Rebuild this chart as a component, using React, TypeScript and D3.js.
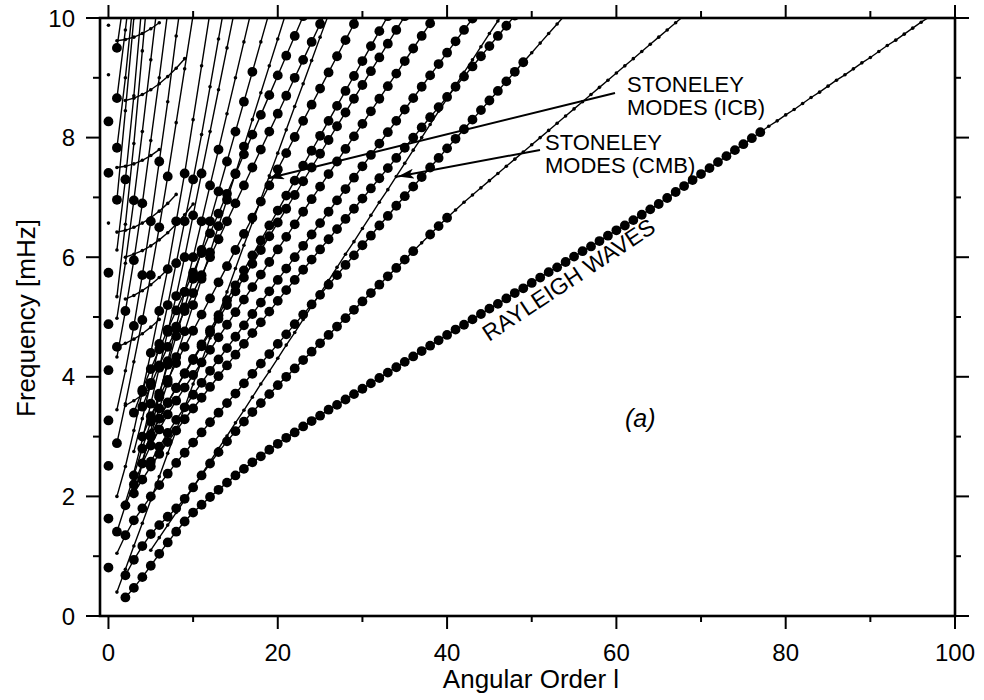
import React from "react";
import * as d3 from "d3";

// radial modes at l = 0 (isolated dots), 1 = observed
const RADIAL_F = [0.81, 1.63, 2.51, 3.27, 4.11, 4.88, 5.74, 6.57, 7.41, 8.27, 9.05, 9.88];
const RADIAL_OBS = [1, 1, 1, 1, 1, 1, 1, 0, 1, 1, 0, 0];

// fundamental branch (Rayleigh waves), l = 2..97
const FUND = [
  0.31, 0.47, 0.65, 0.84, 1.04, 1.23, 1.41, 1.58, 1.73, 1.86, 1.99, 2.11, 2.23, 2.35, 2.46, 2.57, 2.67, 2.78, 2.88,
  2.98, 3.07, 3.17, 3.26, 3.35, 3.45, 3.53, 3.62, 3.71, 3.8,
  3.89, 3.98, 4.07, 4.16, 4.25, 4.34, 4.43, 4.52, 4.61, 4.7,
  4.79, 4.87, 4.96, 5.05, 5.14, 5.22, 5.31, 5.4, 5.48, 5.57,
  5.66, 5.75, 5.83, 5.92, 6.01, 6.1, 6.18, 6.27, 6.36, 6.45,
  6.53, 6.62, 6.71, 6.8, 6.89, 6.99, 7.09, 7.19, 7.29, 7.39,
  7.49, 7.59, 7.69, 7.79, 7.89, 7.99, 8.09,
  8.19, 8.28, 8.38, 8.47, 8.57, 8.67, 8.76, 8.86, 8.96, 9.05, 9.15, 9.25, 9.34, 9.44, 9.54, 9.63, 9.73, 9.83, 9.93, 10.02,
];
const FUND_OBS = [[2, 77]];

// first overtone, l = 2..68
const OV1 = [
  0.68, 0.94, 1.17, 1.37, 1.52, 1.66, 1.8, 1.96, 2.15, 2.35, 2.55, 2.74, 2.92, 3.09, 3.25, 3.41, 3.56, 3.71, 3.86,
  4.0, 4.14, 4.28, 4.42, 4.56, 4.7, 4.84, 4.98, 5.12, 5.26,
  5.4, 5.54, 5.68, 5.82, 5.96, 6.1, 6.24, 6.38, 6.52, 6.66,
  6.79, 6.92, 7.04, 7.16, 7.28, 7.4, 7.52, 7.64, 7.76, 7.88,
  8.0, 8.12, 8.24, 8.36, 8.48, 8.6, 8.72, 8.84, 8.96, 9.08,
  9.2, 9.32, 9.44, 9.56, 9.68, 9.8, 9.92, 10.04,
];
const OV1_OBS = [[2, 36], [38, 40]];

// higher overtones in the middle of the fan
const MA = [1.05, 1.35, 1.6, 1.8, 2.0, 2.19, 2.38, 2.56, 2.73, 2.9, 3.07, 3.24, 3.4, 3.56, 3.72, 3.89, 4.05, 4.22, 4.38, 4.55, 4.71, 4.88, 5.04, 5.21, 5.37, 5.54, 5.7, 5.87, 6.03, 6.2, 6.36, 6.53, 6.69, 6.86, 7.02, 7.18, 7.34, 7.5, 7.66, 7.82, 7.98, 8.14, 8.3, 8.46, 8.62, 8.78, 8.94, 9.1, 9.26, 9.42, 9.58, 9.74, 9.9, 10.06];
const MB = [2.05, 2.28, 2.5, 2.71, 2.91, 3.1, 3.29, 3.47, 3.65, 3.83, 4.01, 4.19, 4.37, 4.55, 4.73, 4.91, 5.09, 5.27, 5.45, 5.62, 5.79, 5.96, 6.13, 6.3, 6.47, 6.64, 6.81, 6.98, 7.15, 7.32, 7.49, 7.66, 7.83, 8.0, 8.17, 8.34, 8.51, 8.68, 8.85, 9.02, 9.19, 9.36, 9.53, 9.7, 9.87, 10.04];
const MC = [2.58, 2.83, 3.06, 3.28, 3.49, 3.7, 3.9, 4.1, 4.29, 4.48, 4.67, 4.86, 5.05, 5.24, 5.43, 5.62, 5.81, 6.0, 6.19, 6.38, 6.57, 6.76, 6.95, 7.14, 7.33, 7.52, 7.71, 7.9, 8.09, 8.28, 8.47, 8.66, 8.85, 9.04, 9.23, 9.42, 9.61, 9.8, 9.99, 10.18];
const MD = [1.41, 1.85, 2.2, 2.55, 2.85, 3.12, 3.37, 3.6, 3.82, 4.03, 4.24, 4.45, 4.66, 4.87, 5.08, 5.29, 5.5, 5.71, 5.92, 6.13, 6.34, 6.55, 6.76, 6.97, 7.18, 7.39, 7.6, 7.81, 8.02, 8.23, 8.44, 8.65, 8.86, 9.07, 9.28, 9.49, 9.7, 9.91, 10.12];
const ME = [3.02, 3.3, 3.56, 3.81, 4.05, 4.28, 4.51, 4.74, 4.97, 5.2, 5.43, 5.66, 5.89, 6.12, 6.35, 6.58, 6.81, 7.04, 7.27, 7.5, 7.73, 7.96, 8.19, 8.42, 8.65, 8.88, 9.11, 9.34, 9.57, 9.8, 10.03];
const MF = [3.0, 3.3, 3.57, 3.82, 4.06, 4.3, 4.54, 4.78, 5.03, 5.28, 5.53, 5.78, 6.03, 6.28, 6.53, 6.78, 7.03, 7.28, 7.53, 7.78, 8.03, 8.28, 8.53, 8.78, 9.03, 9.28, 9.53, 9.78, 10.03];
const MG = [3.0, 3.34, 3.66, 3.95, 4.23, 4.5, 4.77, 5.04, 5.31, 5.58, 5.85, 6.12, 6.39, 6.66, 6.93, 7.2, 7.47, 7.74, 8.01, 8.28, 8.55, 8.82, 9.09, 9.36, 9.63, 9.9, 10.17];
const MH = [3.5, 3.86, 4.19, 4.5, 4.8, 5.1, 5.4, 5.7, 6.0, 6.3, 6.6, 6.9, 7.2, 7.5, 7.8, 8.1, 8.4, 8.7, 9.0, 9.3, 9.6, 9.9, 10.2];
const MI = [3.4, 3.78, 4.13, 4.46, 4.79, 5.11, 5.42, 5.74, 6.07, 6.4, 6.73, 7.06, 7.39, 7.72, 8.05, 8.38, 8.71, 9.04, 9.37, 9.7, 10.03];

// Stoneley branches (predicted only)
const CMB = [1.1, 1.31, 1.52, 1.73, 1.94, 2.15, 2.37, 2.58, 2.8, 3.01, 3.23, 3.44, 3.66, 3.88, 4.09, 4.31, 4.53, 4.74, 4.96, 5.18, 5.39, 5.61, 5.83, 6.05, 6.26, 6.48, 6.7, 6.92, 7.13, 7.35, 7.57, 7.79, 8.0, 8.22, 8.44, 8.65, 8.87, 9.09, 9.3, 9.52, 9.74, 9.95, 10.17];
const ICB = [0.4, 0.78, 1.17, 1.55, 1.94, 2.33, 2.72, 3.1, 3.49, 3.88, 4.26, 4.65, 5.04, 5.42, 5.81, 6.2, 6.58, 6.97, 7.36, 7.74, 8.13, 8.52, 8.9, 9.29, 9.68, 10.06];

// steep branches at low angular order
const L1 = [2.6, 3.03, 3.47, 3.9, 4.33, 4.76, 5.2, 5.64, 6.08, 6.52, 6.96, 7.4, 7.85, 8.3, 8.75, 9.2, 9.65, 10.1];
const L2 = [1.9, 2.35, 2.8, 3.25, 3.72, 4.2, 4.68, 5.16, 5.64, 6.12, 6.6, 7.1, 7.6, 8.1, 8.6, 9.1, 9.6, 10.1];
const L3 = [2.0, 2.55, 3.1, 3.68, 4.26, 4.84, 5.42, 6.0, 6.6, 7.2, 7.8, 8.4, 9.0, 9.6, 10.2];
const L4 = [2.4, 2.95, 3.55, 4.15, 4.75, 5.35, 6.0, 6.7, 7.4, 8.1, 8.8, 9.5, 10.2];
const L5 = [2.75, 3.3, 3.9, 4.55, 5.2, 5.9, 6.6, 7.3, 8.05, 8.85, 9.65, 10.45];
const L6 = [2.0, 2.5, 3.1, 3.75, 4.4, 5.1, 5.8, 6.6, 7.4, 8.3, 9.2, 10.1];
const L7 = [2.89, 3.55, 4.25, 4.95, 5.7, 6.5, 7.35, 8.25, 9.15, 10.05];
const L8 = [3.45, 4.1, 4.85, 5.7, 6.6, 7.6, 8.6, 9.7, 10.7];
const L9 = [4.33, 5.1, 5.95, 6.9, 7.95, 9.0, 10.1];
const L10 = [4.98, 5.9, 6.95, 8.1, 9.3, 10.5];
const L11 = [5.34, 6.55, 7.9, 9.45, 11.0];
const L12 = [6.12, 7.3, 8.7, 10.3];
const L13 = [6.96, 8.45, 10.0];
const L14 = [7.83, 9.0, 10.4];
const L15 = [8.66, 9.8, 11.0];
const L16 = [9.5, 10.5];

// flat core-sensitive branches
const FA = [4.5, 4.56, 4.63, 4.72, 4.83, 4.96];
const FB = [5.3, 5.36, 5.44, 5.54, 5.66, 5.8];
const FC = [6.42, 6.45, 6.5, 6.57, 6.66, 6.77, 6.9, 7.05];
const FD = [7.5, 7.52, 7.56, 7.62, 7.7, 7.8];
const FE = [8.62, 8.66, 8.72, 8.8, 8.9, 9.02, 9.16, 9.32];
const FF = [9.62, 9.64, 9.68, 9.74, 9.82, 9.92];
const FG = [6.0, 6.05, 6.11, 6.19, 6.29, 6.41, 6.55, 6.71, 6.89];
const FH = [3.52, 3.6, 3.7, 3.82];

// first angular order of each branch and the observed (big dot) ranges
const BRANCHES = [
  { l0: 2, f: FUND, obs: FUND_OBS },
  { l0: 2, f: OV1, obs: OV1_OBS },
  { l0: 1, f: MA, obs: [[2, 49]] },
  { l0: 3, f: MB, obs: [[3, 48]] },
  { l0: 5, f: MC, obs: [[5, 44]] },
  { l0: 1, f: MD, obs: [[1, 39]] },
  { l0: 5, f: ME, obs: [[5, 35]] },
  { l0: 5, f: MF, obs: [[5, 33]] },
  { l0: 4, f: MG, obs: [[4, 30]] },
  { l0: 4, f: MH, obs: [[4, 26]] },
  { l0: 3, f: MI, obs: [[3, 23]] },
  { l0: 5, f: CMB, obs: [] },
  { l0: 1, f: ICB, obs: [] },
  { l0: 4, f: L1, obs: [[5, 16]] },
  { l0: 2, f: L2, obs: [[3, 17]] },
  { l0: 3, f: L3, obs: [[6, 13]] },
  { l0: 3, f: L4, obs: [[5, 11]] },
  { l0: 3, f: L5, obs: [[5, 10]] },
  { l0: 1, f: L6, obs: [[4, 9]] },
  { l0: 1, f: L7, obs: [[1, 1], [4, 7]] },
  { l0: 1, f: L8, obs: [[3, 6]] },
  { l0: 1, f: L9, obs: [[2, 4]] },
  { l0: 1, f: L10, obs: [[3, 3]] },
  { l0: 1, f: L11, obs: [] },
  { l0: 1, f: L12, obs: [[2, 2]] },
  { l0: 1, f: L13, obs: [[1, 1]] },
  { l0: 1, f: L14, obs: [[1, 1]] },
  { l0: 1, f: L15, obs: [[1, 1]] },
  { l0: 1, f: L16, obs: [[1, 1]] },
  { l0: 1, f: FA, obs: [[1, 1]] },
  { l0: 2, f: FB, obs: [] },
  { l0: 1, f: FC, obs: [] },
  { l0: 1, f: FD, obs: [] },
  { l0: 2, f: FE, obs: [] },
  { l0: 1, f: FF, obs: [] },
  { l0: 2, f: FG, obs: [] },
  { l0: 2, f: FH, obs: [] },
];

const X_TICKS = [0, 10, 20, 30, 40, 50, 60, 70, 80, 90, 100];
const Y_TICKS = [0, 1, 2, 3, 4, 5, 6, 7, 8, 9, 10];

const FONT = "'Liberation Sans', Arial, Helvetica, sans-serif";

export default function App() {
  const x = d3.scaleLinear().domain([-1, 100]).range([100, 955]);
  const y = d3.scaleLinear().domain([0, 10]).range([616, 18]);
  const line = d3.line<[number, number]>().x((d) => x(d[0])).y((d) => y(d[1]));

  const inObs = (ranges: number[][], l: number) => ranges.some(([a, b]) => l >= a && l <= b);

  const series = BRANCHES.map((b) => b.f.map((v, i) => [b.l0 + i, v] as [number, number]));

  const dots: { l: number; f: number; big: boolean }[] = [];
  RADIAL_F.forEach((f, i) => dots.push({ l: 0, f, big: RADIAL_OBS[i] === 1 }));
  BRANCHES.forEach((b) => b.f.forEach((f, i) => dots.push({ l: b.l0 + i, f, big: inObs(b.obs, b.l0 + i) })));

  const [x0, x1] = x.range();
  const [y0, y1] = y.range();

  return (
    <svg width={984} height={700} style={{ position: "absolute", left: 0, top: 0, background: "#fff" }}>
      <defs>
        <clipPath id="plot">
          <rect x={x0} y={y1} width={x1 - x0} height={y0 - y1} />
        </clipPath>
        <marker id="arr" viewBox="0 0 16 10" refX="16" refY="5" markerWidth="16" markerHeight="10"
          markerUnits="userSpaceOnUse" orient="auto">
          <path d="M0,0 L16,5 L0,10 L4,5 z" fill="#000" />
        </marker>
      </defs>

      <g clipPath="url(#plot)">
        {series.map((s, i) => (
          <path key={i} d={line(s) || ""} fill="none" stroke="#000" strokeWidth={1.4} />
        ))}
        {dots.filter((d) => !d.big).map((d, i) => (
          <circle key={"s" + i} cx={x(d.l)} cy={y(d.f)} r={1.8} fill="#000" />
        ))}
        {dots.filter((d) => d.big).map((d, i) => (
          <circle key={"b" + i} cx={x(d.l)} cy={y(d.f)} r={4.9} fill="#000" />
        ))}
      </g>

      {/* frame */}
      <rect x={x0} y={y1} width={x1 - x0} height={y0 - y1} fill="none" stroke="#000" strokeWidth={2.6} />

      {/* ticks */}
      {X_TICKS.map((t) => {
        const major = t % 20 === 0;
        return (
          <g key={"xt" + t} stroke="#000" strokeWidth={2}>
            <line x1={x(t)} x2={x(t)} y1={y0} y2={y0 + (major ? 13 : 6)} />
            <line x1={x(t)} x2={x(t)} y1={y1} y2={y1 - (major ? 13 : 7)} />
          </g>
        );
      })}
      {Y_TICKS.map((t) => {
        const major = t % 2 === 0;
        return (
          <g key={"yt" + t} stroke="#000" strokeWidth={2}>
            <line x1={x0} x2={x0 - (major ? 14 : 7)} y1={y(t)} y2={y(t)} />
            <line x1={x1} x2={x1 + (major ? 14 : 6)} y1={y(t)} y2={y(t)} />
          </g>
        );
      })}

      {/* tick labels */}
      <g fontFamily={FONT} fontSize={24} fill="#000">
        {X_TICKS.filter((t) => t % 20 === 0).map((t) => (
          <text key={"xl" + t} x={x(t)} y={661} textAnchor="middle">{t}</text>
        ))}
        {Y_TICKS.filter((t) => t % 2 === 0).map((t) => (
          <text key={"yl" + t} x={75} y={y(t) + 8.5} textAnchor="end">{t}</text>
        ))}
      </g>

      {/* axis titles */}
      <text x={531} y={688} textAnchor="middle" fontFamily={FONT} fontSize={26}>Angular Order l</text>
      <text transform="translate(35,318) rotate(-90)" textAnchor="middle" fontFamily={FONT} fontSize={26}>
        Frequency [mHz]
      </text>

      {/* annotations */}
      <g fontFamily={FONT} fontSize={22} fill="#000">
        <text x={627} y={92}>STONELEY</text>
        <text x={627} y={115}>MODES (ICB)</text>
        <text x={545} y={150}>STONELEY</text>
        <text x={545} y={173}>MODES (CMB)</text>
        <text transform="translate(489,342) rotate(-33.5)" fontSize={23}>RAYLEIGH WAVES</text>
        <text x={625} y={427} fontStyle="italic" fontSize={25}>(a)</text>
      </g>
      <line x1={615} y1={93} x2={x(18.9)} y2={y(7.32)} stroke="#000" strokeWidth={2} markerEnd="url(#arr)" />
      <line x1={540} y1={150} x2={x(34.2)} y2={y(7.35)} stroke="#000" strokeWidth={2} markerEnd="url(#arr)" />
    </svg>
  );
}
